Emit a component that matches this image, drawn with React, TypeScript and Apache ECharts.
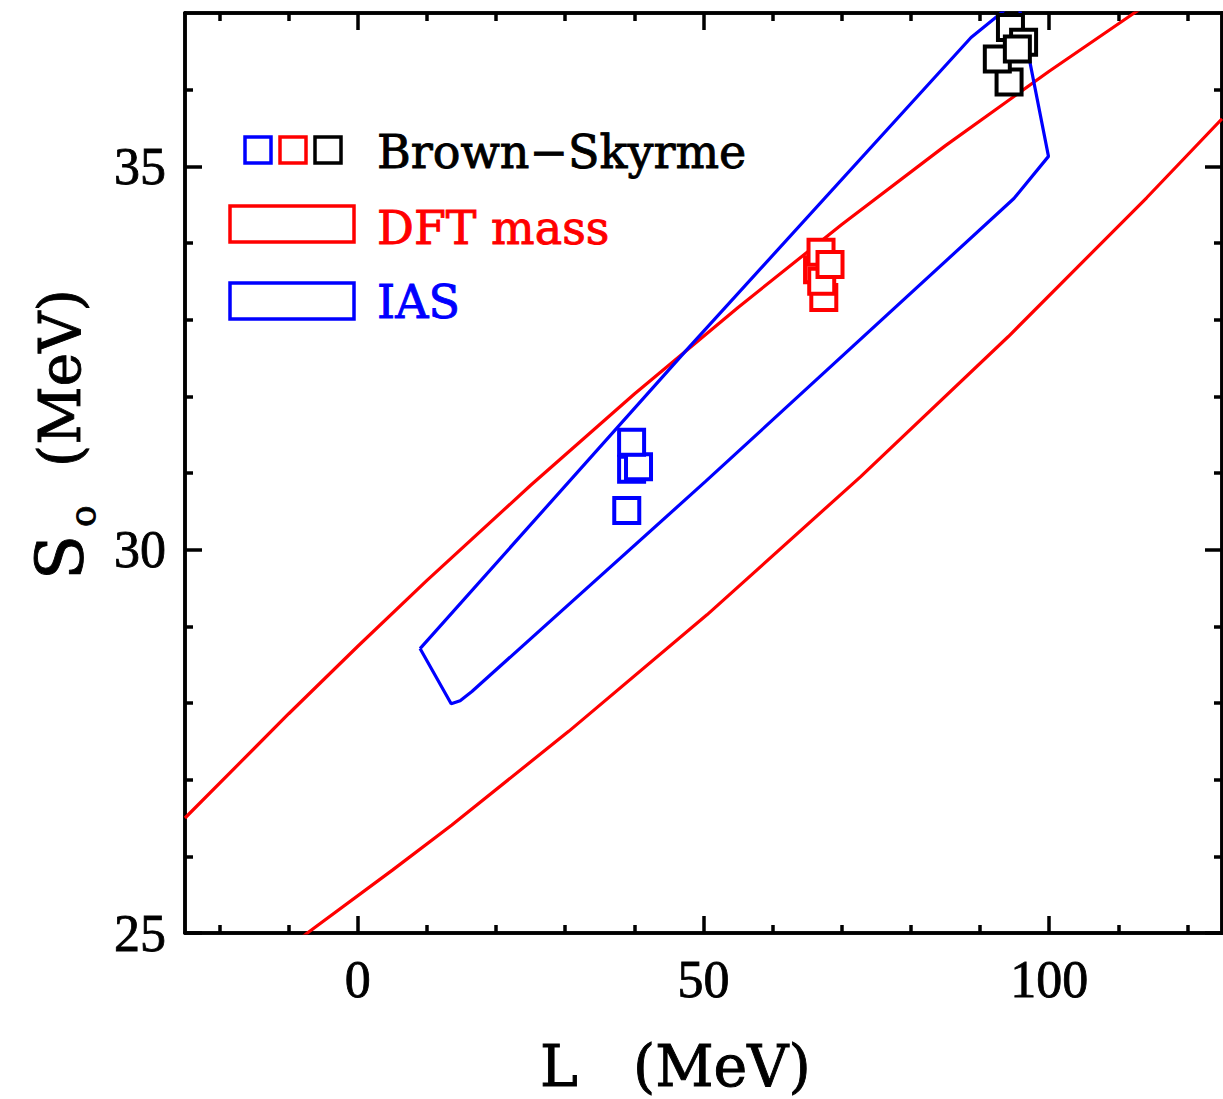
import React, { useEffect, useRef } from 'react';
import * as echarts from 'echarts';

// Axis ranges and ticks
const X_MIN = -25;
const X_MAX = 125;
const Y_MIN = 25;
const Y_MAX = 37;
const xMajorTicks = [0, 50, 100];
const xMinorTicks = [-20, -10, 10, 20, 30, 40, 60, 70, 80, 90, 110, 120];
const yMajorTicks = [25, 30, 35];
const yMinorTicks = [26, 27, 28, 29, 31, 32, 33, 34, 36];

// DFT mass band (red), upper and lower boundaries [L, S0]
const dftUpper = [
  [-25, 26.5], [-10, 27.86], [0, 28.74], [10, 29.6], [25, 30.84], [40, 32.03],
  [55, 33.16], [70, 34.24], [85, 35.27], [100, 36.24], [112.3, 37.0], [115, 37.16],
];
const dftLower = [
  [-8, 24.95], [-7.3, 25.0], [5, 25.82], [13.6, 26.41], [30.5, 27.63], [50.5, 29.15],
  [72.7, 30.95], [94.1, 32.78], [114.1, 34.59], [125, 35.62],
];

// IAS contour (blue), closed
const iasContour = [
  [9.0, 28.71], [13.5, 27.99], [14.8, 28.03], [16.5, 28.15], [50.3, 30.89],
  [94.9, 34.58], [99.9, 35.13], [95.6, 37.1], [94.3, 37.1], [92.8, 36.98],
  [88.7, 36.68], [47.5, 32.6], [9.0, 28.71],
];

// Brown-Skyrme points
const skyrmeBlue = [[38.9, 30.51], [39.6, 31.05], [40.6, 31.08], [39.6, 31.4]];
const skyrmeRed = [[66.5, 33.65], [67.0, 33.88], [67.4, 33.29], [67.1, 33.5], [68.3, 33.72]];
const skyrmeBlack = [[94.2, 36.1], [92.5, 36.4], [94.4, 36.81], [96.3, 36.62], [95.4, 36.53]];

const BLUE = '#0000ff';
const RED = '#ff0000';
const BLACK = '#000000';

function tickAxis(position: string, values: number[], len: number, isX: boolean, labels: boolean) {
  return {
    type: 'value',
    gridIndex: 0,
    position,
    min: isX ? X_MIN : Y_MIN,
    max: isX ? X_MAX : Y_MAX,
    axisLine: { show: true, onZero: false, lineStyle: { color: BLACK, width: 3.5 } },
    axisTick: {
      show: true,
      inside: true,
      length: len,
      customValues: values,
      lineStyle: { color: BLACK, width: 3.5 },
    },
    axisLabel: labels
      ? {
          show: true,
          customValues: values,
          margin: isX ? 20 : 19,
          color: BLACK,
          fontSize: 52,
          fontFamily: '"Liberation Serif"',
          textBorderColor: BLACK,
          textBorderWidth: 0.8,
        }
      : { show: false },
    splitLine: { show: false },
  };
}

const squareSeries = (data: number[][], color: string) => ({
  type: 'scatter',
  data,
  symbol: 'rect',
  symbolSize: 25,
  itemStyle: { color: '#ffffff', borderColor: color, borderWidth: 4, opacity: 1 },
  z: 5,
});

export default function App() {
  const ref = useRef<HTMLDivElement>(null);
  useEffect(() => {
    if (!ref.current) return;
    const chart = echarts.init(ref.current, undefined, { renderer: 'svg' });
    const serif = '"DejaVu Serif"';
    const txt = (x: number, y: number, text: string, size: number, fill: string, rot = 0) => ({
      type: 'text', x, y, rotation: rot,
      style: { text, font: `${size}px ${serif}`, fill, stroke: fill, lineWidth: 0.9, align: 'left', verticalAlign: 'middle' },
    });
    chart.setOption({
      animation: false,
      backgroundColor: '#ffffff',
      grid: { left: 185, right: 1, top: 13, bottom: 166 },
      xAxis: [
        tickAxis('bottom', xMajorTicks, 17, true, true),
        tickAxis('bottom', xMinorTicks, 8, true, false),
        tickAxis('top', xMajorTicks, 17, true, false),
        tickAxis('top', xMinorTicks, 8, true, false),
      ],
      yAxis: [
        tickAxis('left', yMajorTicks, 17, false, true),
        tickAxis('left', yMinorTicks, 8, false, false),
        tickAxis('right', yMajorTicks, 17, false, false),
        tickAxis('right', yMinorTicks, 8, false, false),
      ],
      series: [
        {
          type: 'line', data: dftUpper, showSymbol: false, symbol: 'none',
          lineStyle: { color: RED, width: 3.2 }, clip: true, z: 2,
        },
        {
          type: 'line', data: dftLower, showSymbol: false, symbol: 'none',
          lineStyle: { color: RED, width: 3.2 }, clip: true, z: 2,
        },
        {
          type: 'line', data: iasContour, showSymbol: false, symbol: 'none',
          lineStyle: { color: BLUE, width: 3.2 }, clip: true, z: 3,
        },
        squareSeries(skyrmeBlue, BLUE),
        squareSeries(skyrmeRed, RED),
        squareSeries(skyrmeBlack, BLACK),
      ],
      graphic: [
        // legend
        { type: 'rect', shape: { x: 245, y: 137, width: 26, height: 26 }, style: { fill: '#fff', stroke: BLUE, lineWidth: 3.5 } },
        { type: 'rect', shape: { x: 280, y: 137, width: 26, height: 26 }, style: { fill: '#fff', stroke: RED, lineWidth: 3.5 } },
        { type: 'rect', shape: { x: 315, y: 137, width: 26, height: 26 }, style: { fill: '#fff', stroke: BLACK, lineWidth: 3.5 } },
        txt(377, 152, 'Brown\u2212Skyrme', 46, BLACK),
        { type: 'rect', shape: { x: 230, y: 206, width: 124, height: 36 }, style: { fill: 'none', stroke: RED, lineWidth: 3.5 } },
        txt(377, 228, 'DFT mass', 46, RED),
        { type: 'rect', shape: { x: 230, y: 283, width: 124, height: 36 }, style: { fill: 'none', stroke: BLUE, lineWidth: 3.5 } },
        txt(377, 302, 'IAS', 46, BLUE),
        // x axis title
        txt(540, 1066, 'L', 57, BLACK),
        txt(633, 1066, '(MeV)', 57, BLACK),
        // y axis title (rotated)
        txt(60, 580, 'S', 66, BLACK, Math.PI / 2),
        txt(82, 527, 'o', 36, BLACK, Math.PI / 2),
        txt(60, 467, '(MeV)', 57, BLACK, Math.PI / 2),
      ],
    });
    return () => chart.dispose();
  }, []);
  return (
    <div
      ref={ref}
      style={{ position: 'fixed', left: 0, top: 0, width: 1223, height: 1099, background: '#fff' }}
    />
  );
}
